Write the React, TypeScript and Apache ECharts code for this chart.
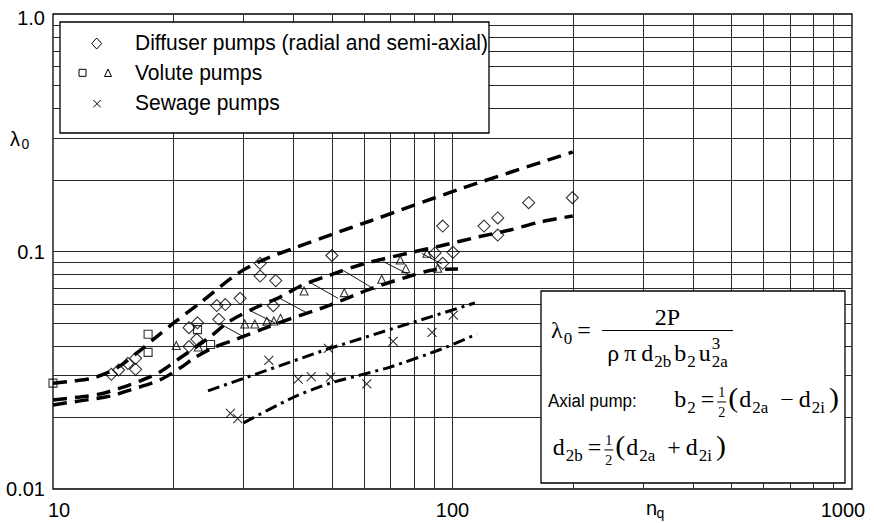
import React, { useEffect, useRef } from 'react';
import * as echarts from 'echarts';

// ---------- axes ----------
const X_MIN = 10;
const X_MAX = 1000;
const Y_MIN = 0.01;
const Y_MAX = 1;
const xTickLabels = ['10', '100', '1000'];
const yTickLabels = ['0.01', '0.1', '1.0'];
const xGridValues = [20, 30, 40, 50, 60, 70, 80, 90, 100, 200, 300, 400, 500, 600, 700, 800, 900];
const yGridValues = [0.02, 0.03, 0.04, 0.05, 0.06, 0.07, 0.08, 0.09, 0.1, 0.2, 0.3, 0.4, 0.5, 0.6, 0.7, 0.8, 0.9];

// ---------- measured points [nq, lambda0] ----------
const diffuserPumps: [number, number][] = [
  [14.0, 0.0304], [14.6, 0.0317], [15.4, 0.0338], [16.1, 0.0355], [16.1, 0.0319],
  [21.9, 0.0478], [23.0, 0.0501], [21.9, 0.0398], [22.9, 0.0427], [26.0, 0.0518],
  [25.7, 0.0592], [27.0, 0.0598], [29.4, 0.0635], [35.6, 0.0591], [33.0, 0.0892],
  [33.0, 0.0788], [36.1, 0.0754], [49.9, 0.0962], [90.4, 0.0986], [100.3, 0.0992],
  [94.5, 0.0892], [94.5, 0.128], [119.9, 0.128], [129.8, 0.1384], [129.8, 0.1173],
  [155.1, 0.1605], [199.5, 0.1684],
];
const voluteSquares: [number, number][] = [
  [10.0, 0.0279], [17.3, 0.0448], [17.3, 0.0376], [23.0, 0.0469], [24.8, 0.0406],
];
const voluteTriangles: [number, number][] = [
  [20.35, 0.0402], [23.1, 0.0396], [30.2, 0.0495], [32.0, 0.0495], [34.3, 0.0509],
  [35.7, 0.051], [37.1, 0.0523], [42.5, 0.0682], [53.6, 0.0671], [66.5, 0.0764],
  [74.0, 0.0921], [76.4, 0.0847], [86.3, 0.0983], [91.8, 0.085],
];
const sewagePumps: [number, number][] = [
  [27.8, 0.0208], [29.0, 0.0198], [34.7, 0.0348], [41.1, 0.029], [44.3, 0.0297],
  [49.5, 0.0296], [48.9, 0.0391], [61.0, 0.0277], [71.0, 0.0418], [88.9, 0.0457],
  [100.5, 0.054],
];

// ---------- band curves ----------
const curveUpper: [number, number][] = [
  [10, 0.0279], [11.22, 0.0285], [12.38, 0.0291], [13.65, 0.0308], [14.72, 0.033],
  [16.23, 0.0374], [18.0, 0.0432], [20.2, 0.0505], [23.33, 0.0607], [28.88, 0.0804],
  [33.55, 0.0921], [40.81, 0.1044], [49.36, 0.1173], [62.19, 0.1344], [106.2, 0.1851],
  [200, 0.2623],
];
const curveMiddle: [number, number][] = [
  [10, 0.0237], [11.68, 0.0244], [13.11, 0.0251], [14.72, 0.0266], [16.51, 0.0285],
  [18.52, 0.0311], [20.79, 0.0356], [22.8, 0.0396], [24.72, 0.0437], [27.74, 0.051],
  [32.41, 0.0584], [37.0, 0.0643], [42.24, 0.0723], [49.36, 0.0796], [59.7, 0.0886],
  [79.63, 0.0995], [93.05, 0.1055], [115.8, 0.1151], [139.3, 0.1232], [165.6, 0.1331],
  [200, 0.1411],
];
const curveLower: [number, number][] = [
  [10, 0.0226], [11.68, 0.0235], [13.89, 0.0246], [15.58, 0.0261], [18.52, 0.0288],
  [20.79, 0.0323], [22.8, 0.036], [25.15, 0.0393], [28.88, 0.0428], [33.55, 0.0472],
  [39.2, 0.052], [49.36, 0.0595], [62.19, 0.0695], [76.92, 0.0781], [89.4, 0.0836],
  [103.2, 0.0844],
];
const sewageUpper: [number, number][] = [[24.43, 0.0259], [48.8, 0.0389], [113.8, 0.0607]];
const sewageLower: [number, number][] = [
  [29.99, 0.019], [40.11, 0.0244], [49.36, 0.0279], [69.76, 0.0326], [94.13, 0.0389], [115.2, 0.0449],
];
// hatch strokes between middle and lower band curve: [n1, l1, n2, l2]
const hatchSegments: [number, number, number, number][] = [
  [26.08, 0.0498, 29.95, 0.0438],
  [31.12, 0.0564, 35.95, 0.05],
  [36.64, 0.064, 42.98, 0.0554],
  [43.98, 0.0741, 51.69, 0.0635],
  [53.29, 0.0832, 64.17, 0.0689],
  [67.12, 0.0906, 79.78, 0.0783],
  [83.73, 0.0983, 93.97, 0.0886],
];

const legendLabels = ['Diffuser pumps (radial and semi-axial)', 'Volute pumps', 'Sewage pumps'];

const SANS = '"Liberation Sans", Arial, Helvetica, sans-serif';
const SERIF = '"Liberation Serif", "Times New Roman", Times, serif';

let mctx: CanvasRenderingContext2D | null = null;
function textWidth(t: string, size: number, family: string) {
  if (!mctx) mctx = document.createElement('canvas').getContext('2d');
  mctx!.font = `${size}px ${family}`;
  return mctx!.measureText(t).width;
}

function txt(t: string, x: number, baseline: number, size: number, family: string, align = 'left', sy = 1) {
  const central = family === SERIF ? 0.3375 : 0.3465;
  return {
    type: 'text',
    z: 110,
    x,
    y: baseline - central * size * sy,
    scaleY: sy,
    silent: true,
    style: { text: t, font: `${size}px ${family}`, fill: '#000', textAlign: align, textVerticalAlign: 'middle' },
  };
}

type Piece = { t?: string; size: number; dy?: number; gap?: number; family?: string; stack?: boolean; frac?: [string, string] };

const FSY = 0.94; // vertical squeeze of formula glyphs

function layout(x0: number, baseline: number, pieces: Piece[], measureOnly = false) {
  const els: any[] = [];
  let x = x0;
  let prevX = x0;
  for (const p of pieces) {
    x += p.gap || 0;
    if (p.frac) {
      const size = p.size;
      const w = Math.max(textWidth(p.frac[0], size, SERIF), textWidth(p.frac[1], size, SERIF)) + 2;
      const cx = x + w / 2;
      els.push(txt(p.frac[0], cx, baseline - size * 0.72, size, SERIF, 'center'));
      els.push(txt(p.frac[1], cx, baseline + size * 0.75, size, SERIF, 'center'));
      els.push({
        type: 'line', z: 110, silent: true,
        shape: { x1: x, y1: baseline - size * 0.36, x2: x + w, y2: baseline - size * 0.36 },
        style: { stroke: '#000', lineWidth: 1 },
      });
      prevX = x;
      x += w;
      continue;
    }
    const fam = p.family || SERIF;
    const sx = p.stack ? prevX : x;
    els.push(txt(p.t || '', sx, baseline + (p.dy || 0), p.size, fam, 'left', FSY));
    const w = textWidth(p.t || '', p.size, fam);
    if (p.stack) {
      x = Math.max(x, sx + w);
    } else {
      prevX = x;
      x += w;
    }
  }
  return { els: measureOnly ? [] : els, width: x - x0 };
}

function buildGraphics() {
  const g: any[] = [];
  // legend box
  g.push({
    type: 'rect', z: 100, silent: true,
    shape: { x: 60, y: 22, width: 429, height: 111 },
    style: { fill: '#fff', stroke: '#000', lineWidth: 1.3 },
  });
  const lx = 135;
  const lb = [49.5, 79.5, 109.5];
  legendLabels.forEach((l, i) => g.push(txt(l, lx, lb[i], 21, SANS, 'left', 1.06)));
  // legend symbols
  g.push({ type: 'polygon', z: 110, silent: true, shape: { points: [[96.7, 38], [101.7, 43.5], [96.7, 49], [91.7, 43.5]] }, style: { fill: 'none', stroke: '#000', lineWidth: 1 } });
  g.push({ type: 'rect', z: 110, silent: true, shape: { x: 79, y: 69.3, width: 7, height: 7 }, style: { fill: 'none', stroke: '#000', lineWidth: 1 } });
  g.push({ type: 'polygon', z: 110, silent: true, shape: { points: [[108, 69], [111.5, 76.5], [104.5, 76.5]] }, style: { fill: 'none', stroke: '#000', lineWidth: 1 } });
  g.push({ type: 'line', z: 110, silent: true, shape: { x1: 93.3, y1: 100, x2: 100.7, y2: 107.4 }, style: { stroke: '#000', lineWidth: 1 } });
  g.push({ type: 'line', z: 110, silent: true, shape: { x1: 100.7, y1: 100, x2: 93.3, y2: 107.4 }, style: { stroke: '#000', lineWidth: 1 } });

  // axis names
  g.push(txt('λ', 10, 146, 20, SANS, 'left', 1.05));
  g.push(txt('0', 21.5, 149, 14, SANS, 'left', 1.05));
  g.push(txt('n', 646, 515, 20, SANS, 'left', 1.05));
  g.push(txt('q', 656.5, 518, 14, SANS, 'left', 1.05));

  // formula box
  g.push({
    type: 'rect', z: 100, silent: true,
    shape: { x: 541, y: 291, width: 304, height: 192 },
    style: { fill: '#fff', stroke: '#000', lineWidth: 1.3 },
  });
  const S = 24;
  const s = 17;
  const P = 30;
  const sub = 6;
  // line 1
  g.push(...layout(551, 338, [
    { t: 'λ', size: S },
    { t: '0', size: s, dy: sub, gap: 1 },
    { t: '=', size: S, gap: 5 },
  ]).els);
  g.push({ type: 'line', z: 110, silent: true, shape: { x1: 602, y1: 330.5, x2: 733, y2: 330.5 }, style: { stroke: '#000', lineWidth: 1.1 } });
  g.push(txt('2P', 667.5, 325, S, SERIF, 'center', FSY));
  const denom: Piece[] = [
    { t: 'ρ', size: S },
    { t: 'π', size: S, gap: 5 },
    { t: 'd', size: S, gap: 5 },
    { t: '2b', size: s, dy: sub, gap: 1 },
    { t: 'b', size: S, gap: 3 },
    { t: '2', size: s, dy: sub, gap: 1 },
    { t: 'u', size: S, gap: 3 },
    { t: '3', size: s, dy: -12, gap: 1 },
    { t: '2a', size: s, dy: sub, stack: true },
  ];
  const dw = layout(0, 0, denom, true).width;
  g.push(...layout(667.5 - dw / 2, 361, denom).els);
  // line 2
  g.push(txt('Axial pump:', 548, 406.7, 17, SANS, 'left', 1.06));
  const line2: Piece[] = [
    { t: 'b', size: S },
    { t: '2', size: s, dy: sub, gap: 1 },
    { t: '=', size: S, gap: 5 },
    { frac: ['1', '2'], size: 14, gap: 3 },
    { t: '(', size: P, gap: 2 },
    { t: 'd', size: S, gap: 1 },
    { t: '2a', size: s, dy: sub, gap: 1 },
    { t: '−', size: S, gap: 12 },
    { t: 'd', size: S, gap: 5 },
    { t: '2i', size: s, dy: sub, gap: 1 },
    { t: ')', size: P, gap: 4 },
  ];
  const w2 = layout(0, 0, line2, true).width;
  g.push(...layout(839 - w2, 407, line2).els);
  // line 3
  const line3: Piece[] = [
    { t: 'd', size: S },
    { t: '2b', size: s, dy: sub, gap: 1 },
    { t: '=', size: S, gap: 5 },
    { frac: ['1', '2'], size: 14, gap: 3 },
    { t: '(', size: P, gap: 2 },
    { t: 'd', size: S, gap: 1 },
    { t: '2a', size: s, dy: sub, gap: 1 },
    { t: '+', size: S, gap: 12 },
    { t: 'd', size: S, gap: 5 },
    { t: '2i', size: s, dy: sub, gap: 1 },
    { t: ')', size: P, gap: 4 },
  ];
  g.push(...layout(552.7, 455, line3).els);
  return g;
}

function buildOption() {
  const gridData = [
    ...xGridValues.map((v) => ({ coords: [[v, Y_MIN], [v, Y_MAX]] })),
    ...yGridValues.map((v) => ({ coords: [[X_MIN, v], [X_MAX, v]] })),
  ];
  const dashed = { color: '#000', width: 3.5, type: [14, 8] as number[], cap: 'butt' };
  const dashDot = { color: '#000', width: 3, type: [12, 5, 3, 5] as number[], cap: 'butt' };
  const curve = (data: [number, number][], ls: any, smooth = 0.3) => ({
    type: 'line', data, showSymbol: false, symbol: 'none', smooth, lineStyle: ls, z: 3, silent: true, clip: false,
  });
  const hollow = { color: 'rgba(255,255,255,0)', borderColor: '#000', borderWidth: 1.1 };
  return {
    animation: false,
    backgroundColor: '#fff',
    grid: { left: 53, right: 22, top: 14, bottom: 34, show: true, borderColor: '#000', borderWidth: 1.3, backgroundColor: 'transparent' },
    xAxis: {
      type: 'log', logBase: 10, min: X_MIN, max: X_MAX,
      axisLine: { show: false }, axisTick: { show: false }, splitLine: { show: false },
      axisLabel: {
        margin: 11,
        color: '#000',
        fontSize: 20,
        fontFamily: SANS,
        showMinLabel: true,
        showMaxLabel: true,
        formatter: (v: number) => {
          const i = Math.round(Math.log10(v)) - 1;
          return `{a${i}|${xTickLabels[i] ?? ''}}`;
        },
        rich: {
          a0: { fontSize: 20, fontFamily: SANS, color: '#000', padding: [0, 0, 0, 12] },
          a1: { fontSize: 20, fontFamily: SANS, color: '#000' },
          a2: { fontSize: 20, fontFamily: SANS, color: '#000', padding: [0, 18, 0, 0] },
        },
      },
    },
    yAxis: {
      type: 'log', logBase: 10, min: Y_MIN, max: Y_MAX,
      axisLine: { show: false }, axisTick: { show: false }, splitLine: { show: false },
      axisLabel: {
        margin: 8,
        color: '#000',
        fontSize: 20,
        fontFamily: SANS,
        showMinLabel: true,
        showMaxLabel: true,
        formatter: (v: number) => {
          const i = Math.round(Math.log10(v)) + 2;
          return `{b${i}|${yTickLabels[i] ?? ''}}`;
        },
        rich: {
          b0: { fontSize: 20, fontFamily: SANS, color: '#000' },
          b1: { fontSize: 20, fontFamily: SANS, color: '#000' },
          b2: { fontSize: 20, fontFamily: SANS, color: '#000', padding: [7, 0, 0, 0] },
        },
      },
    },
    series: [
      {
        type: 'lines', coordinateSystem: 'cartesian2d', data: gridData, silent: true, z: 1,
        lineStyle: { color: '#2a2a2a', width: 1, opacity: 1, curveness: 0 },
      },
      {
        type: 'lines', coordinateSystem: 'cartesian2d', silent: true, z: 3,
        data: hatchSegments.map((s) => ({ coords: [[s[0], s[1]], [s[2], s[3]]] })),
        lineStyle: { color: '#000', width: 0.9, opacity: 1, curveness: 0 },
      },
      curve(curveUpper, dashed),
      curve(curveMiddle, dashed),
      curve(curveLower, dashed),
      curve(sewageUpper, dashDot, 0),
      curve(sewageLower, dashDot, 0.2),
      { type: 'scatter', data: diffuserPumps, symbol: 'diamond', symbolSize: 12, itemStyle: hollow, z: 5, clip: false, silent: true },
      { type: 'scatter', data: voluteSquares, symbol: 'rect', symbolSize: 8, itemStyle: hollow, z: 5, clip: false, silent: true },
      { type: 'scatter', data: voluteTriangles, symbol: 'triangle', symbolSize: 8, itemStyle: hollow, z: 5, clip: false, silent: true },
      { type: 'scatter', data: sewagePumps, symbol: 'path://M0,0L10,10M10,0L0,10', symbolSize: 9, itemStyle: { color: 'rgba(0,0,0,0)', borderColor: '#000', borderWidth: 1.1 }, z: 5, clip: false, silent: true },
    ],
    graphic: { elements: buildGraphics() },
  };
}

export default function App() {
  const ref = useRef<HTMLDivElement>(null);
  useEffect(() => {
    document.body.style.margin = '0';
    const chart = echarts.init(ref.current!, null, { renderer: 'svg', width: 874, height: 523 });
    chart.setOption(buildOption() as any);
    return () => chart.dispose();
  }, []);
  return <div ref={ref} style={{ width: 874, height: 523, position: 'absolute', left: 0, top: 0, background: '#fff' }} />;
}
